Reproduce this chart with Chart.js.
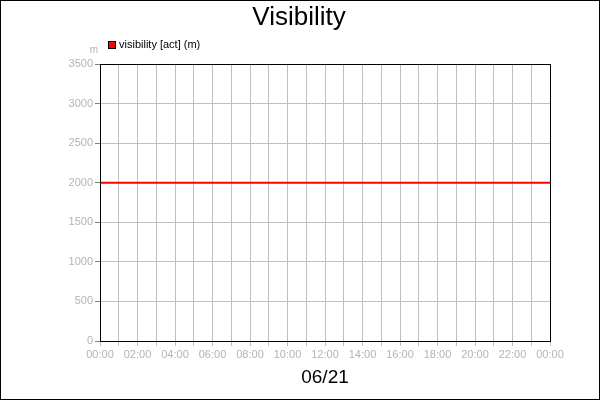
<!DOCTYPE html>
<html>
<head>
<meta charset="utf-8">
<style>
  html, body { margin: 0; padding: 0; background: #fff; }
  #wrap { width: 600px; height: 400px; }
</style>
<script src="https://cdn.jsdelivr.net/npm/chart.js@4/dist/chart.umd.min.js"></script>
</head>
<body>
<div id="wrap"><canvas id="c" width="600" height="400"></canvas></div>
<script>
  // readings through the day, hours since 00:00
  var hours = [0, 1, 2, 3, 4, 5, 6, 7, 8, 9, 10, 11, 12, 13, 14, 15, 16, 17, 18, 19, 20, 21, 22, 23, 24];
  var visibility = [2000, 2000, 2000, 2000, 2000, 2000, 2000, 2000, 2000, 2000, 2000, 2000, 2000,
                    2000, 2000, 2000, 2000, 2000, 2000, 2000, 2000, 2000, 2000, 2000, 2000];
  var seriesName = "visibility [act] (m)";
  var unitLabel = "m";
  var dayLabel = "06/21";
  var chartTitle = "Visibility";

  var FONT = "'Liberation Sans', Arial, sans-serif";
  var GREY = "#b4b4b4";

  function hourLabel(v) {
    if (v % 2 !== 0) return "";
    var h = v % 24;
    return (h < 10 ? "0" : "") + h + ":00";
  }

  var extras = {
    id: "extras",
    afterDraw: function (chart) {
      var ctx = chart.ctx, a = chart.chartArea;
      ctx.save();
      // plot box
      ctx.strokeStyle = "#000";
      ctx.lineWidth = 1;
      ctx.strokeRect(Math.round(a.left) + 0.5, Math.round(a.top) + 0.5,
                     Math.round(a.right - a.left), Math.round(a.bottom - a.top));
      // outer frame
      ctx.strokeRect(0.5, 0.5, 599, 399);
      // title, centred on the whole image
      ctx.fillStyle = "#000";
      ctx.font = "26px " + FONT;
      ctx.textAlign = "center";
      ctx.textBaseline = "middle";
      ctx.fillText(chartTitle, 299, 18);
      // legend
      var ds = chart.data.datasets[0];
      ctx.fillStyle = ds.borderColor;
      ctx.fillRect(108, 41, 7, 7);
      ctx.strokeStyle = "#000";
      ctx.strokeRect(108.5, 41.5, 7, 7);
      ctx.fillStyle = "#000";
      ctx.font = "11px " + FONT;
      ctx.textAlign = "left";
      ctx.fillText(ds.label, 119, 45);
      // unit
      ctx.fillStyle = GREY;
      ctx.font = "10px " + FONT;
      ctx.textAlign = "center";
      ctx.fillText(unitLabel, 94, 50);
      ctx.restore();
    }
  };

  new Chart(document.getElementById("c").getContext("2d"), {
    type: "line",
    data: {
      datasets: [{
        label: seriesName,
        data: hours.map(function (h, i) { return { x: h, y: visibility[i] }; }),
        borderColor: "#ff0000",
        borderWidth: 2,
        pointRadius: 0,
        tension: 0
      }]
    },
    options: {
      responsive: false,
      animation: false,
      layout: { padding: { left: 0, right: 50, top: 64, bottom: 0 } },
      plugins: {
        legend: { display: false },
        tooltip: { enabled: false },
        title: { display: false }
      },
      scales: {
        x: {
          type: "linear",
          min: 0,
          max: 24,
          afterFit: function (s) { s.height = 59; },
          ticks: {
            stepSize: 1,
            autoSkip: false,
            maxRotation: 0,
            padding: 2,
            color: GREY,
            font: { family: FONT, size: 11 },
            callback: hourLabel
          },
          grid: { color: "#c0c0c0", tickLength: 5, tickColor: "#c0c0c0" },
          border: { color: "#000" },
          title: {
            display: true,
            text: dayLabel,
            color: "#000",
            font: { family: FONT, size: 19 },
            padding: { top: 8, bottom: 11 }
          }
        },
        y: {
          min: 0,
          max: 3500,
          afterFit: function (s) { s.width = 100; },
          ticks: {
            stepSize: 500,
            padding: 2,
            color: GREY,
            font: { family: FONT, size: 11 },
            callback: function (v) { return String(v); }
          },
          grid: { color: "#c0c0c0", tickLength: 5, tickColor: "#808080" },
          border: { color: "#000" }
        }
      }
    },
    plugins: [extras]
  });
</script>
</body>
</html>
